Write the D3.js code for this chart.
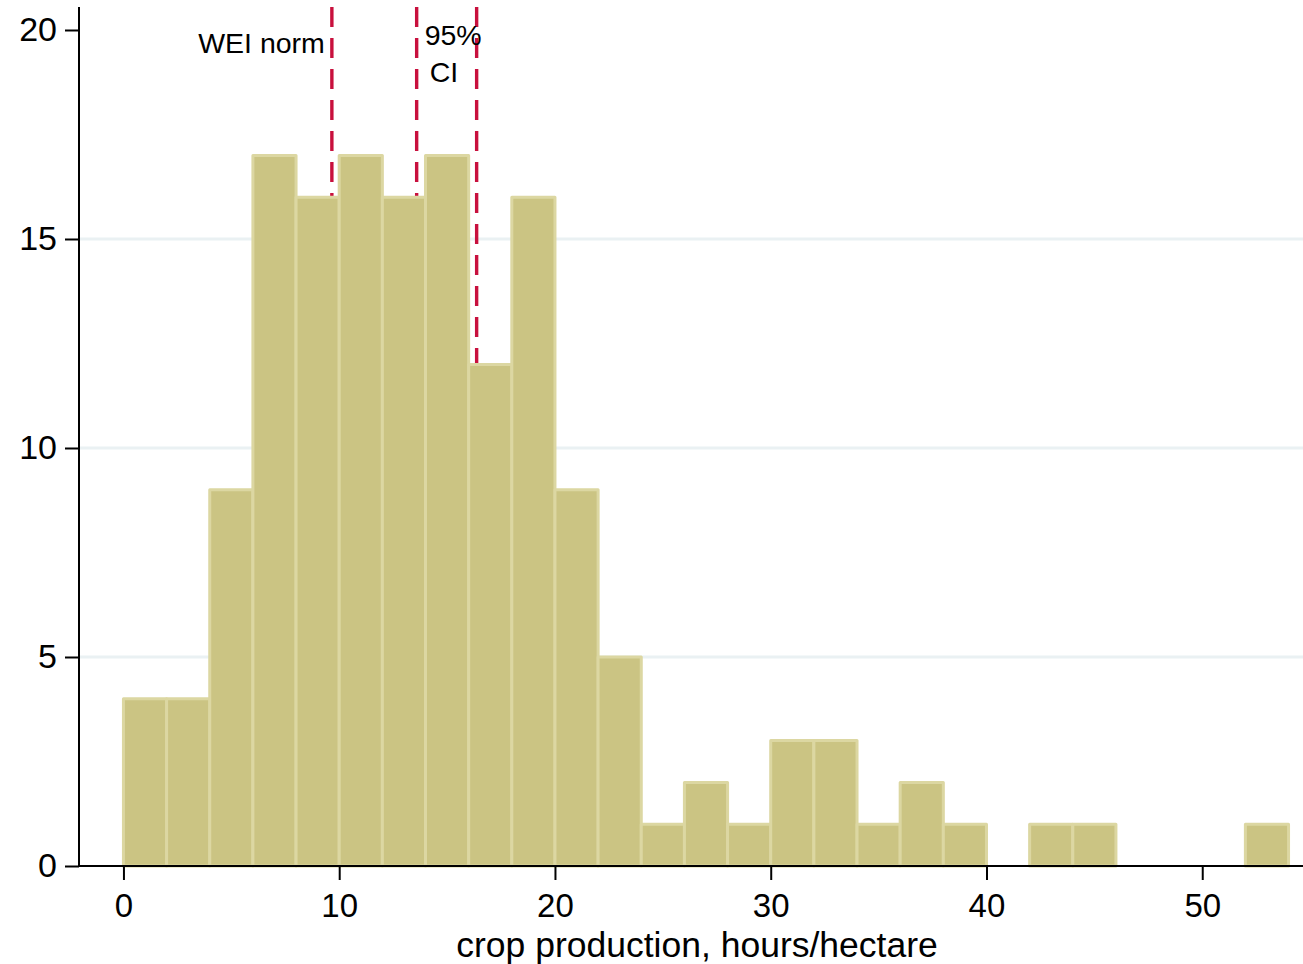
<!DOCTYPE html>
<html>
<head>
<meta charset="utf-8">
<script src="https://cdn.jsdelivr.net/npm/d3@7"></script>
<style>
  html, body { margin: 0; padding: 0; background: #fff; }
  svg { display: block; }
  text { font-family: "Liberation Sans", Arial, Helvetica, sans-serif; fill: #000; }
</style>
</head>
<body>
<svg id="chart" width="1303" height="964"></svg>
<script>
// ---- data ----
const binStarts = [0,2,4,6,8,10,12,14,16,18,20,22,24,26,28,30,32,34,36,38,40,42,44,46,48,50,52];
const binWidth = 2;
const counts = [4,4,9,17,16,17,16,17,12,16,9,5,1,2,1,3,3,1,2,1,0,1,1,0,0,0,1];
const xTicks = [0,10,20,30,40,50];
const yTicks = [0,5,10,15,20];
const gridValues = [5,10,15];
const refLines = [9.66, 13.59, 16.37];   // WEI norm, 95% CI lower, 95% CI upper
const xTitle = "crop production, hours/hectare";

(function () {
// ---- layout ----
const svg = d3.select("#chart");
const pLeft = 79, pRight = 1303, pTop = 7, pBottom = 866;
const x = d3.scaleLinear().domain([-2.06, 54.67]).range([pLeft, pRight]);
const y = d3.scaleLinear().domain([0, 20.55]).range([pBottom, pTop]);

// gridlines
svg.append("g").selectAll("line").data(gridValues).join("line")
  .attr("x1", pLeft).attr("x2", pRight)
  .attr("y1", d => y(d)).attr("y2", d => y(d))
  .attr("stroke", "#eaf1f3").attr("stroke-width", 3);

// reference lines (drawn behind bars)
svg.append("g").selectAll("line").data(refLines).join("line")
  .attr("x1", d => x(d)).attr("x2", d => x(d))
  .attr("y1", pTop).attr("y2", pBottom)
  .attr("stroke", "#c8103d").attr("stroke-width", 3.4)
  .attr("stroke-dasharray", "20 11");

// bars
svg.append("g").selectAll("rect").data(binStarts.map((s, i) => ({s, c: counts[i]})).filter(d => d.c > 0)).join("rect")
  .attr("x", d => x(d.s))
  .attr("width", d => x(d.s + binWidth) - x(d.s))
  .attr("y", d => y(d.c))
  .attr("height", d => y(0) - y(d.c))
  .attr("fill", "#cbc483")
  .attr("stroke", "#dcd7a2")
  .attr("stroke-width", 3)
  .attr("stroke-linejoin", "round");

// annotations
svg.append("text").attr("x", x(refLines[0]) - 7).attr("y", 53)
  .attr("text-anchor", "end").attr("font-size", 28.5).text("WEI norm");
svg.append("text").attr("x", x(refLines[1]) + 8).attr("y", 45)
  .attr("font-size", 28.5).text("95%");
svg.append("text").attr("x", x(refLines[1]) + 13).attr("y", 82)
  .attr("font-size", 28.5).text("CI");

// y axis
const yAxis = svg.append("g").attr("transform", `translate(${pLeft},0)`)
  .call(d3.axisLeft(y).tickValues(yTicks).tickSize(14).tickPadding(8).tickFormat(d3.format("d")));
yAxis.select(".domain").remove();
yAxis.append("line").attr("x1", 0).attr("x2", 0).attr("y1", pTop).attr("y2", pBottom)
  .attr("stroke", "#000").attr("stroke-width", 2);
yAxis.selectAll(".tick line").attr("stroke", "#000").attr("stroke-width", 2);
yAxis.selectAll(".tick text").attr("font-size", 34).attr("font-family", "Liberation Sans, Arial, sans-serif").attr("fill", "#000");

// x axis
const xAxis = svg.append("g").attr("transform", `translate(0,${pBottom})`)
  .call(d3.axisBottom(x).tickValues(xTicks).tickSize(14).tickPadding(14).tickFormat(d3.format("d")));
xAxis.select(".domain").remove();
xAxis.append("line").attr("x1", pLeft).attr("x2", pRight).attr("y1", 0).attr("y2", 0)
  .attr("stroke", "#000").attr("stroke-width", 2);
xAxis.selectAll(".tick line").attr("stroke", "#000").attr("stroke-width", 2);
xAxis.selectAll(".tick text").attr("font-size", 33).attr("font-family", "Liberation Sans, Arial, sans-serif").attr("fill", "#000");

// x title
svg.append("text").attr("x", 697).attr("y", 957)
  .attr("text-anchor", "middle").attr("font-size", 35.5).text(xTitle);
})();
</script>
</body>
</html>
